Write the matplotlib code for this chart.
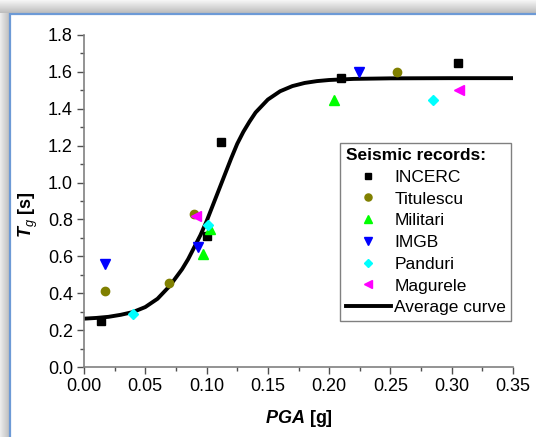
import numpy as np
import matplotlib
matplotlib.use("Agg")
import matplotlib.pyplot as plt
from matplotlib.patches import Rectangle
from matplotlib.ticker import MultipleLocator, FormatStrFormatter

plt.rcParams['font.family'] = ['Liberation Sans', 'DejaVu Sans']
plt.rcParams['mathtext.fontset'] = 'custom'
plt.rcParams['mathtext.rm'] = 'Liberation Sans'
plt.rcParams['mathtext.it'] = 'Liberation Sans:italic'
plt.rcParams['mathtext.bf'] = 'Liberation Sans:bold'
plt.rcParams['mathtext.bfit'] = 'Liberation Sans:italic:bold'

# seismic records
incerc_x = [0.014, 0.100, 0.112, 0.210, 0.305]
incerc_y = [0.25, 0.71, 1.22, 1.565, 1.65]
titulescu_x = [0.017, 0.069, 0.090, 0.255]
titulescu_y = [0.41, 0.455, 0.83, 1.60]
militari_x = [0.097, 0.103, 0.204]
militari_y = [0.61, 0.75, 1.45]
imgb_x = [0.017, 0.093, 0.224]
imgb_y = [0.56, 0.65, 1.60]
panduri_x = [0.040, 0.101, 0.285]
panduri_y = [0.29, 0.77, 1.45]
magurele_x = [0.091, 0.306]
magurele_y = [0.82, 1.50]

# average curve, points
curve_x = [0.00, 0.01, 0.02, 0.03, 0.04, 0.05, 0.06, 0.07, 0.08, 0.085, 0.09, 0.095,
           0.10, 0.105, 0.11, 0.115, 0.12, 0.125, 0.13, 0.135, 0.14, 0.15, 0.16, 0.17,
           0.18, 0.19, 0.20, 0.22, 0.25, 0.30, 0.35]
curve_y = [0.262, 0.266, 0.272, 0.283, 0.298, 0.325, 0.37, 0.44, 0.53, 0.585, 0.65, 0.715,
           0.79, 0.875, 0.96, 1.045, 1.13, 1.21, 1.275, 1.33, 1.38, 1.45, 1.495, 1.523,
           1.54, 1.55, 1.556, 1.562, 1.565, 1.566, 1.566]

fig = plt.figure(figsize=(5.36, 4.37), dpi=100)
W, H = 536, 437

# window-like frame: grey shadow and blue border
bg = fig.add_axes([0, 0, 1, 1], zorder=-5)
bg.axis('off')
bg.add_patch(Rectangle((0, 0), 1, 1, facecolor='#cfcfcf', edgecolor='none'))
for i in range(13):
    c = str(0.96 - 0.018 * i)
    bg.add_patch(Rectangle((0, 1 - (i + 1) / H), 1, 1 / H + 0.0005, facecolor=c, edgecolor='none'))
for i in range(9):
    c = str(0.92 - 0.02 * i)
    bg.add_patch(Rectangle((i / W, 0), 1 / W + 0.0005, 1 - 13 / H, facecolor=c, edgecolor='none'))
bg.add_patch(Rectangle((9.5 / W, -0.05), 1, 1 - 13.5 / H + 0.05,
                       facecolor='white', edgecolor='#6d9ad6', lw=1.6))
bg.set_xlim(0, 1)
bg.set_ylim(0, 1)

ax = fig.add_axes([84 / W, 1 - 367 / H, (513 - 84) / W, (367 - 35) / H])
ax.patch.set_alpha(0)

ax.plot(curve_x, curve_y, color='black', lw=2.8, label='Average curve', zorder=2)

ms = 5.5
ax.plot(incerc_x, incerc_y, 's', color='black', ms=ms, label='INCERC', zorder=3)
ax.plot(titulescu_x, titulescu_y, 'o', color='#808000', ms=ms + 0.5, label='Titulescu', zorder=3)
ax.plot(militari_x, militari_y, '^', color='#00ff00', ms=ms + 1, label='Militari', zorder=3)
ax.plot(imgb_x, imgb_y, 'v', color='#0000ff', ms=ms + 1, label='IMGB', zorder=3)
ax.plot(panduri_x, panduri_y, 'D', color='#00ffff', ms=ms - 0.5, label='Panduri', zorder=3)
ax.plot(magurele_x, magurele_y, '<', color='#ff00ff', ms=ms + 1, label='Magurele', zorder=3)

ax.set_xlim(0, 0.35)
ax.set_ylim(0, 1.8)
ax.xaxis.set_major_locator(MultipleLocator(0.05))
ax.xaxis.set_minor_locator(MultipleLocator(0.025))
ax.yaxis.set_major_locator(MultipleLocator(0.2))
ax.yaxis.set_minor_locator(MultipleLocator(0.1))
ax.xaxis.set_major_formatter(FormatStrFormatter('%.2f'))
ax.yaxis.set_major_formatter(FormatStrFormatter('%.1f'))

for s in ['top', 'right']:
    ax.spines[s].set_visible(False)
for s in ['left', 'bottom']:
    ax.spines[s].set_color('#808080')
    ax.spines[s].set_linewidth(1.2)
ax.tick_params(which='both', direction='out', color='#505050', width=1.0, labelsize=13)
ax.tick_params(which='major', length=5, pad=3)
ax.tick_params(which='minor', length=3)

ax.set_xlabel(r'$\mathbfit{PGA}$ [g]', fontsize=13, fontweight='bold', labelpad=9)
ax.set_ylabel(r'$\mathbfit{T}_{\mathit{g}}$ [s]', fontsize=13, fontweight='bold')
ax.yaxis.set_label_coords(-0.102, 0.46)

handles, labels = ax.get_legend_handles_labels()
order = [1, 2, 3, 4, 5, 6, 0]
leg = ax.legend([handles[i] for i in order], [labels[i] for i in order],
                title='Seismic records:', loc='lower right',
                bbox_to_anchor=(0.996, 0.14), fontsize=12.5,
                title_fontproperties={'weight': 'bold', 'size': 12.5},
                frameon=True, fancybox=False, edgecolor='#808080', framealpha=1,
                handlelength=2.6, handletextpad=0.2, labelspacing=0.38, borderpad=0.3,
                borderaxespad=0, alignment='left', markerscale=0.85)
leg.get_frame().set_linewidth(1.0)

fig.savefig('out.png', dpi=100)
